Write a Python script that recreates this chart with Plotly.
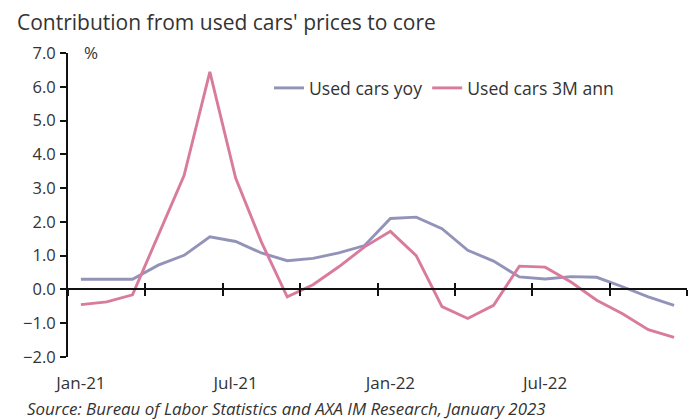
import plotly.graph_objects as go

months = ["Jan-21", "Feb-21", "Mar-21", "Apr-21", "May-21", "Jun-21", "Jul-21", "Aug-21",
          "Sep-21", "Oct-21", "Nov-21", "Dec-21", "Jan-22", "Feb-22", "Mar-22", "Apr-22",
          "May-22", "Jun-22", "Jul-22", "Aug-22", "Sep-22", "Oct-22", "Nov-22", "Dec-22"]
used_yoy = [0.30, 0.30, 0.30, 0.72, 1.01, 1.56, 1.42, 1.08, 0.85, 0.92, 1.08, 1.30,
            2.10, 2.14, 1.80, 1.16, 0.84, 0.37, 0.31, 0.38, 0.36, 0.08, -0.22, -0.47]
used_3m = [-0.45, -0.37, -0.16, 1.59, 3.37, 6.44, 3.30, 1.40, -0.22, 0.14, 0.67, 1.26,
           1.72, 1.00, -0.51, -0.86, -0.47, 0.69, 0.66, 0.22, -0.32, -0.72, -1.19, -1.42]
tick_labels = ["Jan-21", "Jul-21", "Jan-22", "Jul-22"]
y_ticks = [-2, -1, 0, 1, 2, 3, 4, 5, 6, 7]

idx = list(range(len(months)))
label_pos = [months.index(m) for m in tick_labels]
boundaries = [i - 0.5 for i in range(0, len(months) + 1, 3)]

PURPLE = "#9393b9"
PINK = "#d97b9d"
FONT = "Open Sans"
TXT = "#333333"

fig = go.Figure()
fig.add_trace(go.Scatter(x=idx, y=used_yoy, mode="lines", name="Used cars yoy",
                         line=dict(color=PURPLE, width=2.9), xaxis="x", yaxis="y"))
fig.add_trace(go.Scatter(x=idx, y=used_3m, mode="lines", name="Used cars 3M ann",
                         line=dict(color=PINK, width=2.9), xaxis="x2", yaxis="y"))
fig.add_trace(go.Scatter(x=idx, y=used_3m, mode="lines", showlegend=False,
                         line=dict(color="rgba(0,0,0,0)", width=0), hoverinfo="skip",
                         xaxis="x3", yaxis="y"))

xr = [-0.5, len(months) - 0.5]
zero_pos = (0 - y_ticks[0]) / (y_ticks[-1] - y_ticks[0])
PW = 619.0

fig.update_layout(
    width=696, height=419,
    margin=dict(l=68, r=9, t=53, b=62),
    plot_bgcolor="white", paper_bgcolor="white",
    font=dict(family=FONT, size=15, color=TXT),
    showlegend=True,
    legend=dict(orientation="h", x=(269 - 68) / PW, y=0.885, xanchor="left", yanchor="middle",
                font=dict(size=17.6, color=TXT), bgcolor="rgba(0,0,0,0)",
                itemwidth=30, tracegroupgap=0),
    xaxis=dict(range=xr, tickmode="array", tickvals=label_pos, ticktext=tick_labels,
               showgrid=False, zeroline=False, showline=False, ticks="",
               tickfont=dict(size=17, color=TXT), ticklabelstandoff=14),
    xaxis2=dict(range=xr, overlaying="x", anchor="free", position=zero_pos, side="bottom",
                tickmode="array", tickvals=boundaries, showticklabels=False,
                ticks="outside", ticklen=6, tickwidth=2, tickcolor="#111111",
                showline=True, linecolor="#111111", linewidth=2,
                showgrid=False, zeroline=False),
    xaxis3=dict(range=xr, overlaying="x", anchor="free", position=zero_pos, side="bottom",
                tickmode="array", tickvals=boundaries, showticklabels=False,
                ticks="inside", ticklen=6, tickwidth=2, tickcolor="#111111",
                showline=False, showgrid=False, zeroline=False),
    yaxis=dict(range=[y_ticks[0], y_ticks[-1]], tickmode="array", tickvals=y_ticks,
               tickformat=".1f", ticks="outside", ticklen=6, tickwidth=2,
               tickcolor="#111111", showline=True, linecolor="#111111", linewidth=2,
               showgrid=False, zeroline=False, tickfont=dict(size=16.5, color=TXT),
               ticklabelstandoff=1),
    annotations=[
        dict(text="Contribution from used cars' prices to core", xref="paper", yref="paper",
             x=(15 - 68) / PW, y=1.0, yshift=31, xanchor="left", yanchor="middle",
             showarrow=False, font=dict(size=21, color=TXT)),
        dict(text="%", xref="paper", yref="paper", x=(82 - 68) / PW, y=1.0, yshift=1,
             xanchor="left", yanchor="middle", showarrow=False,
             font=dict(size=17, color=TXT)),
        dict(text="<i>Source: Bureau of Labor Statistics and AXA IM Research, January 2023</i>",
             xref="paper", yref="paper", x=(25 - 68) / PW, y=0, yshift=-51, xanchor="left",
             yanchor="middle", showarrow=False, font=dict(size=16.9, color=TXT)),
    ],
)

fig.write_html("out.html", config={"displayModeBar": False},
               post_script="document.body.style.margin='0';")
